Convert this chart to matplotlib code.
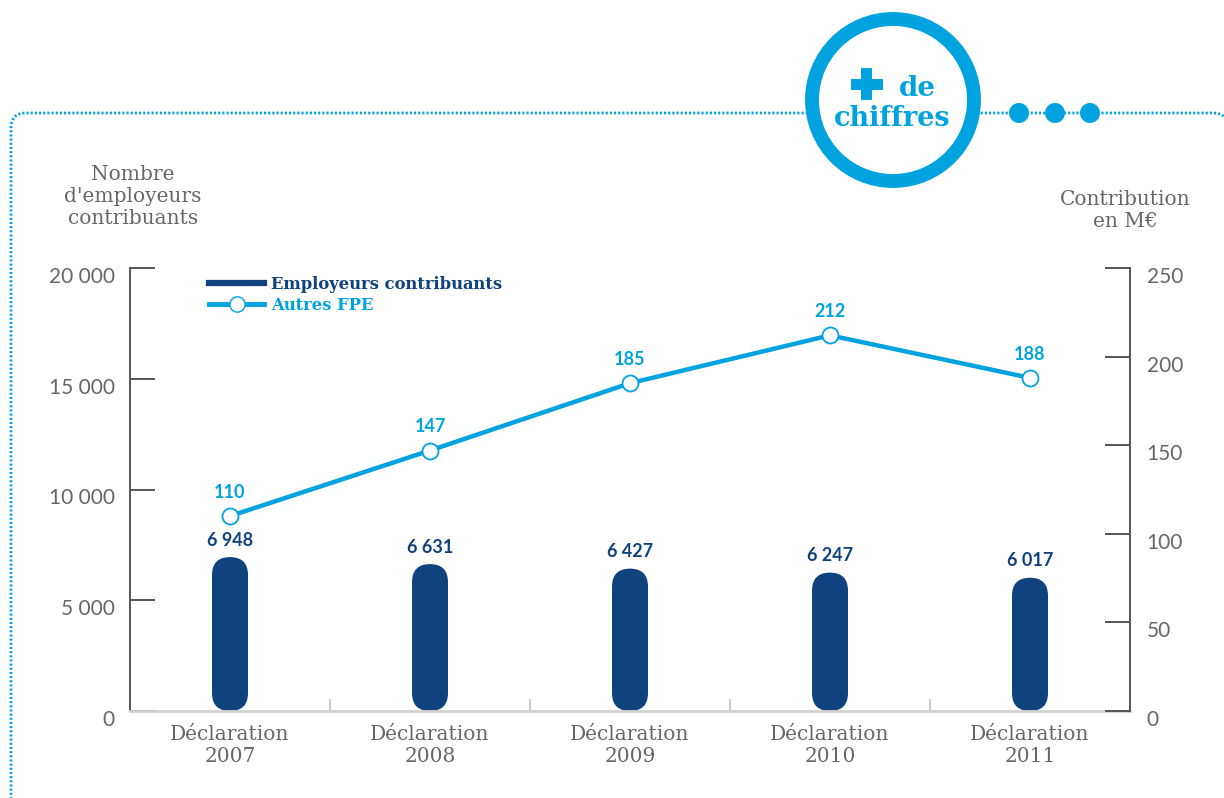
import matplotlib
matplotlib.use("Agg")
import matplotlib.pyplot as plt
from matplotlib.patches import FancyBboxPatch, Circle, PathPatch, Rectangle
from matplotlib.path import Path
from matplotlib.lines import Line2D
from matplotlib.transforms import ScaledTranslation

# ----------------- DATA -----------------
CATEGORIES = ["Déclaration\n2007", "Déclaration\n2008", "Déclaration\n2009",
              "Déclaration\n2010", "Déclaration\n2011"]
EMPLOYEURS = [6948, 6631, 6427, 6247, 6017]
AUTRES_FPE = [110, 147, 185, 212, 188]

LEFT_TICKS = [0, 5000, 10000, 15000, 20000]
RIGHT_TICKS = [0, 50, 100, 150, 200, 250]

# ----------------- STYLE ----------------
NAVY = "#10427e"
CYAN = "#00a3df"
GREY = "#666666"
AXIS = "#555555"
SERIF = "DejaVu Serif"
SANS = "Lato"

W, H, DPI = 12.24, 7.98, 100


def fmt_thousands(v):
    return f"{int(v):,}".replace(",", " ")


fig = plt.figure(figsize=(W, H), dpi=DPI)

# ----- decorative frame + badge, drawn in pixel coordinates -----
deco = fig.add_axes([0, 0, 1, 1], zorder=0)
deco.set_xlim(0, W * DPI)
deco.set_ylim(H * DPI, 0)
deco.axis("off")

r = 15
verts = [(11, 800), (11, 113 + r), (11, 113), (11 + r, 113),
         (1213, 113), (1228, 113), (1228, 113 + r), (1228, 800)]
codes = [Path.MOVETO, Path.LINETO, Path.CURVE3, Path.CURVE3,
         Path.LINETO, Path.CURVE3, Path.CURVE3, Path.LINETO]
deco.add_patch(PathPatch(Path(verts, codes), fill=False, edgecolor=CYAN,
                         lw=2.0, linestyle=(0, (0.75, 0.75)), capstyle="butt"))

for cx in [1019, 1055, 1090]:
    deco.add_patch(Circle((cx, 113), 10, facecolor=CYAN, edgecolor="none", zorder=3))

deco.add_patch(Circle((893, 100), 81, facecolor="white", edgecolor=CYAN,
                      lw=10, zorder=4))
# block plus sign
deco.add_patch(Rectangle((850.5, 78.5), 32, 11, facecolor=CYAN, edgecolor="none", zorder=5))
deco.add_patch(Rectangle((861, 68), 11, 32, facecolor=CYAN, edgecolor="none", zorder=5))
deco.text(917, 88, "de", color=CYAN, fontsize=20, fontweight="bold",
          family=SERIF, ha="center", va="center", zorder=5)
deco.text(892, 119, "chiffres", color=CYAN, fontsize=19.5, fontweight="bold",
          family=SERIF, ha="center", va="center", zorder=5)

# ----- main chart -----
ax_l, ax_b = 130 / (W * DPI), 1 - 711 / (H * DPI)
ax_w, ax_h = 1000 / (W * DPI), 443 / (H * DPI)
ax = fig.add_axes([ax_l, ax_b, ax_w, ax_h], zorder=1)
ax.patch.set_alpha(0)
ax2 = ax.twinx()
ax2.patch.set_alpha(0)

x = list(range(len(CATEGORIES)))
ax.set_xlim(-0.5, len(CATEGORIES) - 0.5)
ax.set_ylim(0, 20000)
ax2.set_ylim(0, 250)

# bars with fully rounded ends
bar_w = 0.18
x_per_px = (len(CATEGORIES)) / 1000
y_per_px = 20000 / 443
aspect = y_per_px / x_per_px
for xi, v in zip(x, EMPLOYEURS):
    ax.add_patch(FancyBboxPatch((xi - bar_w / 2, 0), bar_w, v,
                                boxstyle=f"round,pad=0,rounding_size={bar_w / 2}",
                                mutation_aspect=aspect, facecolor=NAVY,
                                edgecolor="none", zorder=2, clip_on=False))
    ax.annotate(fmt_thousands(v), (xi, v), xytext=(0, 6), textcoords="offset points",
                ha="center", va="bottom", color=NAVY, fontsize=13,
                fontweight="bold", family=SANS)

ax2.plot(x, AUTRES_FPE, color=CYAN, lw=3.2, marker="o", ms=11.5,
         mfc="white", mec=CYAN, mew=1.3, zorder=3, clip_on=False)
for xi, v in zip(x, AUTRES_FPE):
    ax2.annotate(str(v), (xi, v), xytext=(0, 11), textcoords="offset points",
                 ha="center", va="bottom", color=CYAN, fontsize=13,
                 fontweight="bold", family=SANS)

# spines
for s in ["top", "right"]:
    ax.spines[s].set_visible(False)
ax.spines["left"].set_color(AXIS)
ax.spines["left"].set_linewidth(1.4)
ax.spines["bottom"].set_color("#d0d0d0")
ax.spines["bottom"].set_linewidth(2)
for s in ["top", "left", "bottom"]:
    ax2.spines[s].set_visible(False)
ax2.spines["right"].set_color(AXIS)
ax2.spines["right"].set_linewidth(1.4)

# ticks
ax.set_yticks(LEFT_TICKS)
ax.set_yticklabels([fmt_thousands(t) for t in LEFT_TICKS])
ax.tick_params(axis="y", direction="in", length=18, width=1.4, color=AXIS,
               pad=11, labelsize=15, labelcolor=GREY)
ax2.set_yticks(RIGHT_TICKS)
ax2.tick_params(axis="y", direction="in", length=18, width=1.4, color=AXIS,
                pad=12, labelsize=15, labelcolor=GREY)
shift_down = ScaledTranslation(0, -5 / 72, fig.dpi_scale_trans)
for lab in ax.get_yticklabels() + ax2.get_yticklabels():
    lab.set_family(SANS)
    lab.set_transform(lab.get_transform() + shift_down)

ax.set_xticks(x)
ax.set_xticklabels(CATEGORIES, family=SERIF, fontsize=14.5, color=GREY,
                   linespacing=1.2)
ax.tick_params(axis="x", length=0, pad=10)
ax.set_xticks([i + 0.5 for i in x[:-1]], minor=True)
ax.tick_params(axis="x", which="minor", direction="in", length=9, width=1.5,
               color="#cccccc")

# axis titles
fig.text(133 / (W * DPI), 1 - 165 / (H * DPI), "Nombre\nd'employeurs\ncontribuants",
         ha="center", va="top", family=SERIF, fontsize=14.5, color=GREY,
         linespacing=1.2)
fig.text(1125 / (W * DPI), 1 - 190 / (H * DPI), "Contribution\nen M€",
         ha="center", va="top", family=SERIF, fontsize=14.5, color=GREY,
         linespacing=1.2)

# legend
handles = [Line2D([], [], color=NAVY, lw=4.5),
           Line2D([], [], color=CYAN, lw=3.5, marker="o", ms=11,
                  mfc="white", mec=CYAN)]
leg = ax2.legend(handles, ["Employeurs contribuants", "Autres FPE"],
                 loc="upper left", bbox_to_anchor=(0.064, 1.015), frameon=False,
                 handlelength=3.4, handletextpad=0.4, labelspacing=0.25,
                 prop={"family": SERIF, "weight": "bold", "size": 11.8})
for txt, c in zip(leg.get_texts(), [NAVY, CYAN]):
    txt.set_color(c)

fig.savefig("out.png", dpi=DPI)
